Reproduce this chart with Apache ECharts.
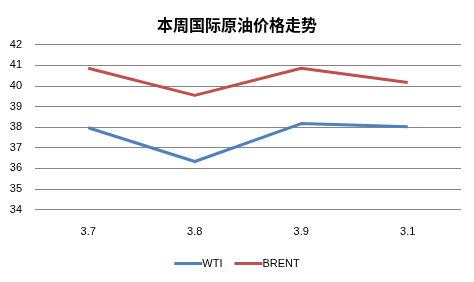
<!DOCTYPE html>
<html><head><meta charset="utf-8">
<script src="https://cdn.jsdelivr.net/npm/echarts@6/dist/echarts.min.js"></script>
<style>html,body{margin:0;padding:0;background:#fff}#c{width:474px;height:282px}</style>
</head><body><div id="c"></div>
<script>
var categories = ['3.7', '3.8', '3.9', '3.1'];
var wti = [37.97, 36.33, 38.17, 38.02];
var brent = [40.86, 39.54, 40.86, 40.16];
var yTicks = [34, 35, 36, 37, 38, 39, 40, 41, 42];
var chart = echarts.init(document.getElementById('c'), null, {renderer: 'canvas'});
chart.setOption({
  animation: false,
  title: {text: '本周国际原油价格走势', left: 'center', top: 12,
    textStyle: {fontFamily: 'Noto Sans CJK SC', fontSize: 16, fontWeight: 'bold', color: '#000'}},
  grid: {left: 35, right: 13, top: 44.7, bottom: 72.5},
  legend: {data: ['WTI', 'BRENT'], bottom: 8, left: 'center', itemWidth: 28, itemHeight: 3, itemGap: 12,
    icon: 'rect',
    textStyle: {fontFamily: 'Liberation Sans', fontSize: 11, color: '#000', padding: [0,0,0,-5]}},
  xAxis: {type: 'category', data: categories, boundaryGap: true,
    axisLine: {show: false}, axisTick: {show: false},
    axisLabel: {fontFamily: 'Liberation Sans', fontSize: 11, color: '#000', margin: 17}},
  yAxis: {type: 'value', min: yTicks[0], max: yTicks[yTicks.length-1], interval: 1,
    axisLine: {show: false}, axisTick: {show: false},
    axisLabel: {fontFamily: 'Liberation Sans', fontSize: 11, color: '#000', margin: 13},
    splitLine: {lineStyle: {color: '#868686', width: 1}}},
  series: [
    {name: 'WTI', type: 'line', data: wti, symbol: 'none', lineStyle: {color: '#4F81BD', width: 3}, itemStyle: {color: '#4F81BD'}},
    {name: 'BRENT', type: 'line', data: brent, symbol: 'none', lineStyle: {color: '#C0504D', width: 3}, itemStyle: {color: '#C0504D'}}
  ]
});
</script></body></html>
